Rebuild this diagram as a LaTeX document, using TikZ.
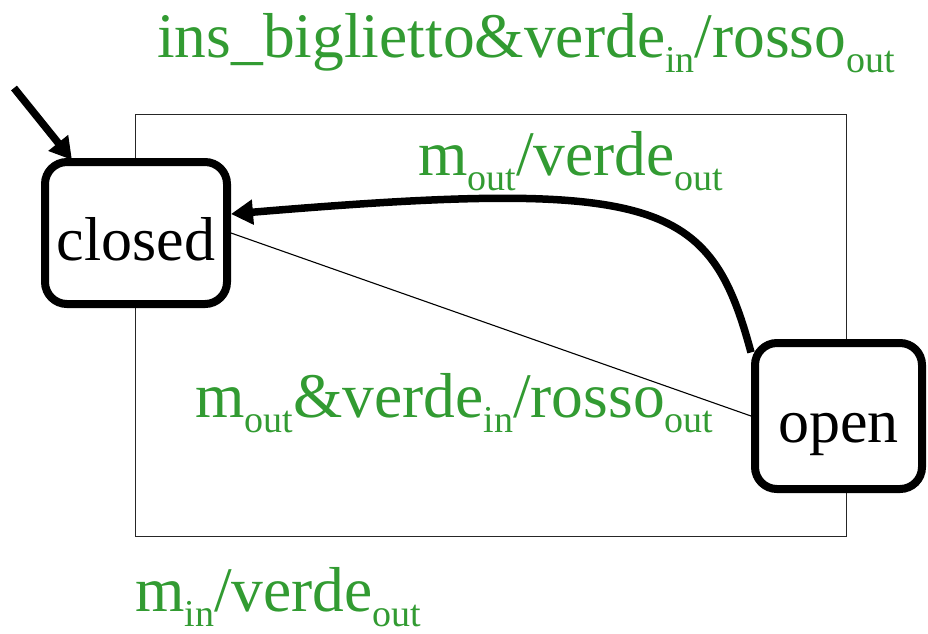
\documentclass[tikz,border=0pt]{standalone}
\usepackage{fontspec}
\setmainfont{Liberation Serif}
\usetikzlibrary{arrows.meta}
\definecolor{lblgreen}{RGB}{50,155,50}
\newcommand\mysub[1]{\raisebox{-15pt}{\fontsize{38}{38}\selectfont #1}}
\tikzset{
  statebox/.style={draw=black, fill=white, line width=8pt, rounded corners=22pt,
    inner sep=0pt, text depth=0pt, font=\fontsize{62}{62}\selectfont},
  lbl/.style={anchor=base west, inner sep=0pt, text=lblgreen,
    font=\fontsize{63.5}{63.5}\selectfont},
  frame/.style={draw=black!85, line width=1pt},
  thickarrow/.style={line width=7.5pt, -{Triangle[length=22pt,width=24pt]}},
  initarrow/.style={line width=7.5pt, -{Triangle[length=22pt,width=24pt]}},
  thinline/.style={line width=1.1pt}
}
\begin{document}
\begin{tikzpicture}[x=1pt,y=-1pt]
\useasboundingbox (0,0) rectangle (928,633);
\draw[frame] (135,114) rectangle (846,536);
\node[statebox, minimum width=182pt, minimum height=142pt, text height=54pt] (closed) at (136,233) {closed};
\node[statebox, minimum width=167pt, minimum height=146pt, text height=52pt] (open) at (838.5,416) {open};
\coordinate (init) at (14,88);
\draw[initarrow] (init) -- ([xshift=31pt,yshift=-2pt]closed.north west);
\draw[thickarrow] (open.144) .. controls (710,200) and (660,178) .. ([yshift=19pt]closed.east);
\draw[thinline] (closed.east) -- (open.west);
\node[lbl] (l1) at (157,57) {ins\_biglietto\&verde\mysub{in}/rosso\mysub{out}};
\node[lbl] (l2) at (418,175) {m\mysub{out}/verde\mysub{out}};
\node[lbl] (l3) at (195,417) {m\mysub{out}\&verde\mysub{in}/rosso\mysub{out}};
\node[lbl] (l4) at (135,611) {m\mysub{in}/verde\mysub{out}};
\end{tikzpicture}
\end{document}
